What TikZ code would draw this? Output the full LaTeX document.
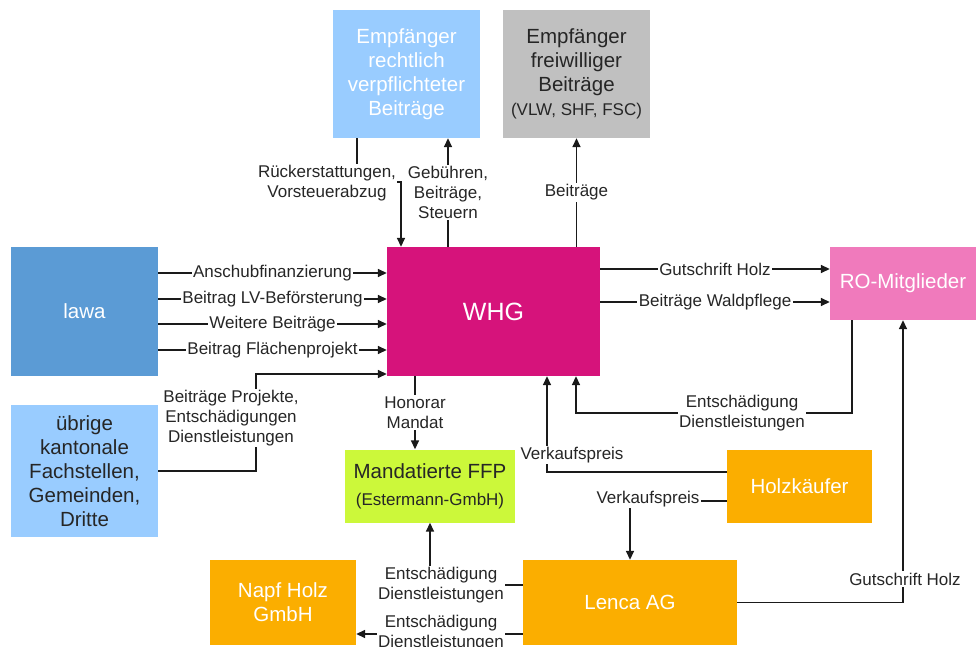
\documentclass[tikz,border=0pt]{standalone}
\usepackage{fontspec}
\setmainfont{Liberation Sans}
\usetikzlibrary{arrows.meta,calc}
\definecolor{lblue}{HTML}{99CCFF}
\definecolor{gbox}{HTML}{C0C0C0}
\definecolor{mblue}{HTML}{5B9BD5}
\definecolor{magenta}{HTML}{D6137B}
\definecolor{pinkbox}{HTML}{F07ABC}
\definecolor{lime}{HTML}{CCF83A}
\definecolor{orangebox}{HTML}{FBAE00}
\definecolor{txt}{HTML}{262626}
\definecolor{linec}{HTML}{1A1A1A}
\begin{document}
\begin{tikzpicture}[x=1pt,y=-1pt,
  box/.style={rectangle, inner sep=2pt, align=center, font=\fontsize{20.5}{24}\selectfont},
  lbl/.style={fill=white, inner sep=1.5pt, align=center, text=txt, font=\fontsize{17}{20}\selectfont},
  conn/.style={draw=linec, line width=1.6pt, -{Triangle[length=9pt,width=8pt]}},
  plain/.style={draw=linec, line width=1.6pt}]
\useasboundingbox (0,0) rectangle (978,647);
\fill[white] (0,0) rectangle (978,647);

% boxes
\node[box, fill=lblue, text=white, minimum width=147pt, minimum height=128pt] (er) at (406.5,74) {Empfänger\\rechtlich\\verpflichteter\\Beiträge};
\node[box, fill=gbox, text=txt, minimum width=147pt, minimum height=128pt] (ef) at (576.5,74) {Empfänger\\freiwilliger\\Beiträge\\{\fontsize{17}{20}\selectfont (VLW, SHF, FSC)}};
\node[box, fill=mblue, text=white, minimum width=147pt, minimum height=129pt] (lawa) at (84.5,311.5) {lawa};
\node[box, fill=lblue, text=txt, minimum width=147pt, minimum height=132pt] (ueb) at (84.5,471) {übrige\\kantonale\\Fachstellen,\\Gemeinden,\\Dritte};
\node[box, fill=magenta, text=white, minimum width=213pt, minimum height=129pt, font=\fontsize{25}{28}\selectfont] (whg) at (493.5,311.5) {WHG};
\node[box, fill=pinkbox, text=white, minimum width=146pt, minimum height=73pt] (ro) at (903,283.5) {RO-Mitglieder};
\node[box, fill=lime, text=txt, minimum width=170pt, minimum height=73pt] (ffp) at (430,486) {Mandatierte FFP\\[3pt]{\fontsize{17}{20}\selectfont (Estermann-GmbH)}};
\node[box, fill=orangebox, text=white, minimum width=145pt, minimum height=73pt] (hk) at (799.5,486) {Holzkäufer};
\node[box, fill=orangebox, text=white, minimum width=146pt, minimum height=85pt] (napf) at (283,602.5) {Napf Holz\\GmbH};
\node[box, fill=orangebox, text=white, minimum width=214pt, minimum height=85pt] (lenca) at (630,602.5) {Lenca AG};

% coordinates for bends
\coordinate (k1) at (256,374);
\coordinate (k2) at (700,413);
\coordinate (k3) at (380,182);

% top connectors
\draw[conn] ([xshift=-49.5pt]er.south) |- (k3) -| ([xshift=-92.5pt]whg.north);
\node[lbl] (l1) at (327,183) {Rückerstattungen,\\Vorsteuerabzug};
\draw[conn] ([xshift=-45.5pt]whg.north) -- node[lbl] (l2) {Gebühren,\\Beiträge,\\Steuern} ([xshift=41.5pt]er.south);
\draw[conn] (whg.north -| ef.south) -- node[lbl] (l3) {Beiträge} (ef.south);

% lawa -> WHG
\draw[conn] ([yshift=38.5pt]lawa.east) -- node[lbl] (l4) {Anschubfinanzierung} ([yshift=38.5pt]whg.west);
\draw[conn] ([yshift=12.5pt]lawa.east) -- node[lbl] (l5) {Beitrag LV-Beförsterung} ([yshift=12.5pt]whg.west);
\draw[conn] ([yshift=-12.5pt]lawa.east) -- node[lbl] (l6) {Weitere Beiträge} ([yshift=-12.5pt]whg.west);
\draw[conn] ([yshift=-38.5pt]lawa.east) -- node[lbl] (l7) {Beitrag Flächenprojekt} ([yshift=-38.5pt]whg.west);

% übrige -> WHG
\draw[conn] (ueb.east) -| (k1) -- (k1 -| whg.west);
\node[lbl] (l8) at (231,418) {Beiträge Projekte,\\Entschädigungen\\Dienstleistungen};

% WHG -> RO
\draw[conn] ([yshift=42.5pt]whg.east) -- node[lbl] (l9) {Gutschrift Holz} ([yshift=14.5pt]ro.west);
\draw[conn] ([yshift=9.5pt]whg.east) -- node[lbl] (l10) {Beiträge Waldpflege} ([yshift=-18.5pt]ro.west);

% RO -> WHG
\draw[conn] ([xshift=-51pt]ro.south) |- (k2) -| ([xshift=82.5pt]whg.south);
\node[lbl] (l11) at (742,413) {Entschädigung\\Dienstleistungen};

% WHG -> FFP
\draw[conn] ([xshift=-78.5pt]whg.south) -- node[lbl] (l12) {Honorar\\Mandat} ([xshift=-15pt]ffp.north);

% Holzkäufer -> WHG
\draw[conn] ([yshift=14pt]hk.west) -| ([xshift=53.5pt]whg.south);
\node[lbl] (l13) at (572,455) {Verkaufspreis};

% Holzkäufer -> Lenca
\draw[conn] ([yshift=-15pt]hk.west) -| (lenca.north);
\node[lbl] (l14) at (648,499) {Verkaufspreis};

% Lenca -> RO
\draw[conn] (lenca.east) -| (ro.south);
\node[lbl] (l15) at (905,579) {Gutschrift Holz};

% Lenca -> FFP
\draw[conn] ([yshift=17.5pt]lenca.west) -| (ffp.south);
\node[lbl] (l16) at (441,585) {Entschädigung\\Dienstleistungen};

% Lenca -> Napf
\draw[conn] ([yshift=-31.5pt]lenca.west) -- ([yshift=-31.5pt]napf.east);
\node[lbl] (l17) at (441,633) {Entschädigung\\Dienstleistungen};
\end{tikzpicture}
\end{document}
